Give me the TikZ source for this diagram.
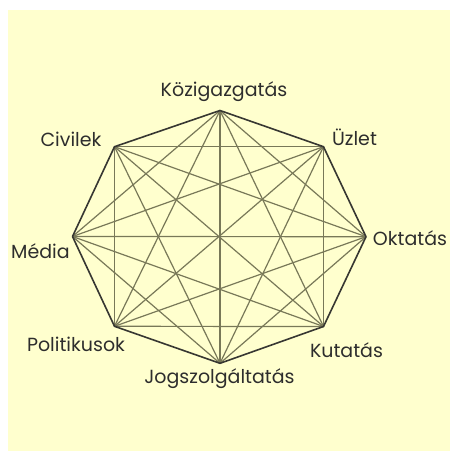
\documentclass[tikz,border=0pt]{standalone}
\usepackage{fontspec}
\setmainfont{Poppins}
\definecolor{bgyellow}{RGB}{255,255,206}
\definecolor{edgecol}{RGB}{55,55,50}
\definecolor{chordcol}{RGB}{120,120,88}
\definecolor{txtcol}{RGB}{45,45,45}
\tikzset{
  edgeline/.style={draw=edgecol, line width=1.6pt, line join=round},
  chordline/.style={draw=chordcol, line width=1.2pt},
  lbl/.style={anchor=base, text=txtcol, font=\fontsize{19}{21}\selectfont, inner sep=0pt}
}
\begin{document}
\begin{tikzpicture}[x=1pt,y=-1pt]
\useasboundingbox (0,0) rectangle (450,451);
\fill[bgyellow] (8,10) rectangle (450,451);
\coordinate (v1) at (220,110.5);
\coordinate (v2) at (323.5,146.7);
\coordinate (v3) at (366,236.7);
\coordinate (v4) at (323.5,326.5);
\coordinate (v5) at (220,363.3);
\coordinate (v6) at (114.5,326.3);
\coordinate (v7) at (72.5,236.5);
\coordinate (v8) at (114.5,146.7);
\foreach \i/\j in {1/3,1/4,1/5,1/6,1/7,2/4,2/5,2/6,2/7,2/8,3/5,3/6,3/7,3/8,4/6,4/7,4/8,5/7,5/8,6/8}
  \draw[chordline] (v\i) -- (v\j);
\draw[edgeline] (v1) -- (v2) -- (v3) -- (v4) -- (v5) -- (v6) -- (v7) -- (v8) -- cycle;
\node[lbl] (l1) at (224,96) {Közigazgatás};
\node[lbl] (l2) at (354.5,145) {Üzlet};
\node[lbl] (l3) at (410,245) {Oktatás};
\node[lbl] (l4) at (346.5,357) {Kutatás};
\node[lbl] (l5) at (219.5,383) {Jogszolgáltatás};
\node[lbl] (l6) at (76,351) {Politikusok};
\node[lbl] (l7) at (40.5,258) {Média};
\node[lbl] (l8) at (71,146) {Civilek};
\end{tikzpicture}
\end{document}
